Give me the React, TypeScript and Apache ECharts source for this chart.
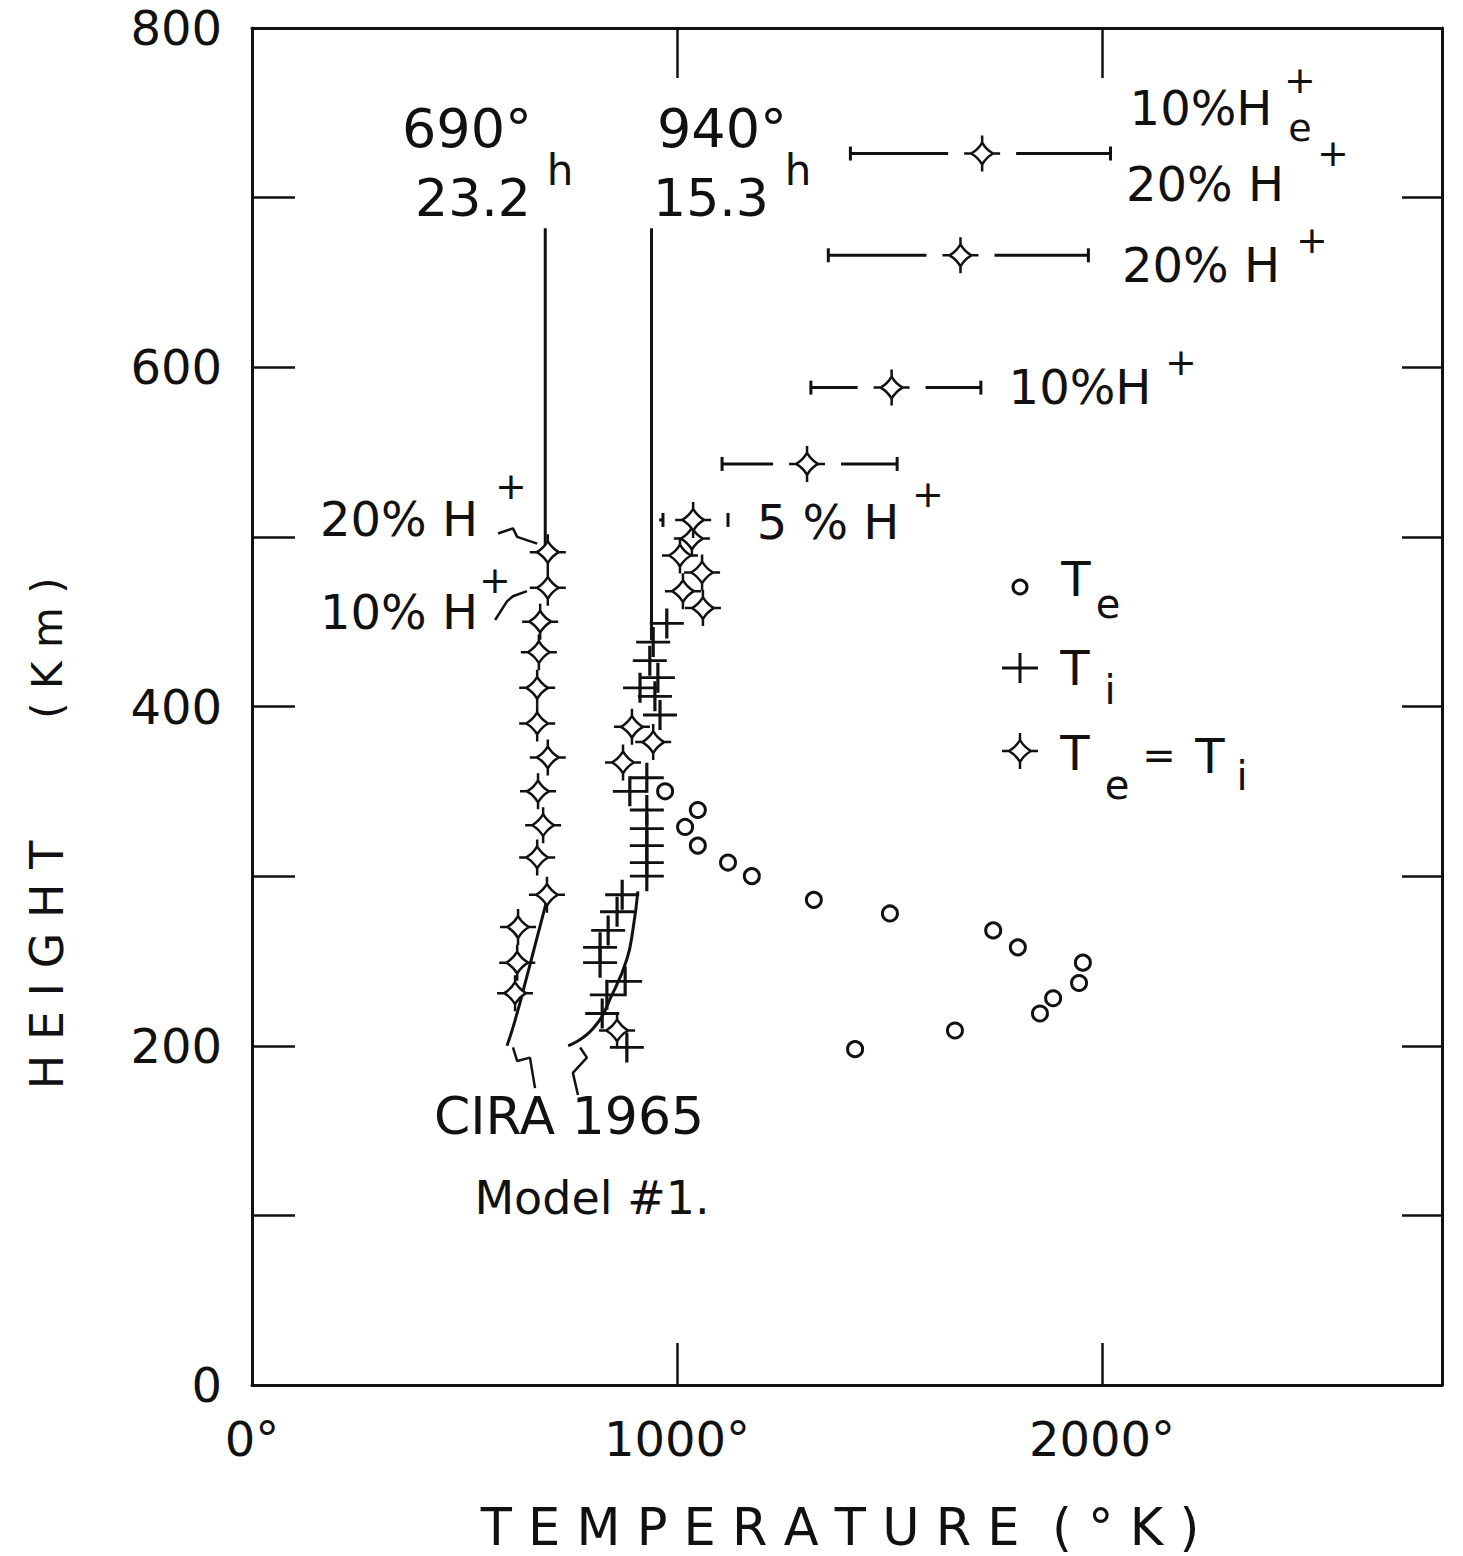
import React, { useEffect, useRef } from "react";
import * as echarts from "echarts";

// ---------- axis ticks ----------
const xTickValues = [0, 1000, 2000];
const yTickLabelValues = [0, 200, 400, 600, 800];

// ---------- data: [temperature °K, height km] ----------
const teCircles: number[][] = [
  [972, 350], [1049, 339], [1019, 329], [1049, 318], [1120, 308], [1176, 300],
  [1322, 286], [1501, 278], [1744, 268], [1802, 258], [1955, 249], [1946, 237],
  [1885, 228], [1854, 219], [1654, 209], [1419, 198],
];

const tiCrosses: number[][] = [
  [976, 449], [944, 438], [936, 427], [955, 417], [913, 411], [948, 406], [960, 395],
  [929, 358], [889, 350], [929, 339], [929, 328], [929, 318], [929, 308], [929, 300],
  [871, 289], [859, 279], [838, 268], [819, 258], [819, 249], [878, 238], [835, 230],
  [824, 219], [882, 199],
];

const teEqTiLeft: number[][] = [
  [696, 491], [696, 470], [678, 450], [675, 432], [671, 411], [671, 390], [696, 370],
  [673, 350], [685, 330], [671, 311], [694, 289], [626, 270], [624, 249], [619, 231],
];

const teEqTiRight: number[][] = [
  [1035, 499], [1007, 489], [1059, 479], [1014, 468], [1061, 458],
  [894, 388], [944, 379], [873, 367], [859, 209],
];

// [centre T, height, lower T, upper T]
const errorBars: number[][] = [
  [1718, 726, 1408, 2020],
  [1667, 666, 1356, 1968],
  [1505, 588, 1315, 1715],
  [1306, 543, 1106, 1518],
  [1038, 510, 967, 1120],
];

const model690: number[][] = [[690, 491], [690, 682]];
const model940: number[][] = [[940, 439], [940, 682]];
const ciraLeft: number[][] = [[600, 200], [619, 215], [647, 241], [671, 264], [694, 286]];
const ciraRight: number[][] = [[744, 200], [802, 210], [849, 231], [882, 251], [896, 268], [908, 291]];
const ciraArrowLeft: number[][] = [[666, 175], [654, 193], [624, 191], [614, 199]];
const ciraArrowRight: number[][] = [[767, 171], [755, 184], [788, 193], [772, 199]];
const arrow20: number[][] = [[579, 502], [614, 505], [624, 500], [671, 496]];
const arrow10: number[][] = [[572, 451], [600, 462], [614, 465], [647, 468]];

// ---------- marker shapes ----------
const STAR_D =
  "M0,18L7,18M29,18L36,18M18,0L18,7M18,29L18,36M18,7Q22,14 29,18Q22,22 18,29Q14,22 7,18Q14,14 18,7Z";
const PLUS_D = "M0,15L36,15M18,0L18,30";
const STAR = "path://" + STAR_D;
const PLUS = "path://" + PLUS_D;

let shapesRegistered = false;
function registerShapes() {
  if (shapesRegistered) return;
  echarts.graphic.registerShape("tetiStar", echarts.graphic.extendPath(STAR_D, {}) as any);
  echarts.graphic.registerShape("tiPlus", echarts.graphic.extendPath(PLUS_D, {}) as any);
  shapesRegistered = true;
}

const FONT = '"DejaVu Sans", "Liberation Sans", sans-serif';
const INK = "#111";

function txt(text: string, x: number, y: number, size: number, extra: any = {}) {
  return {
    type: "text",
    x,
    y,
    silent: true,
    ...extra,
    style: {
      text,
      fontSize: size,
      fontFamily: FONT,
      fill: INK,
      textAlign: "center",
      textVerticalAlign: "middle",
      align: "center",
      verticalAlign: "middle",
    },
  };
}

export default function App() {
  const ref = useRef<HTMLDivElement>(null);

  useEffect(() => {
    document.body.style.margin = "0";
    registerShapes();
    const chart = echarts.init(ref.current!, null, { renderer: "svg" });

    const lineStyle = { color: INK, width: 3 };
    const lineSeries = (data: number[][], smooth = false, width = 3) => ({
      type: "line",
      data,
      smooth,
      showSymbol: false,
      symbol: "none",
      silent: true,
      z: 2,
      lineStyle: { color: INK, width },
    });

    const graphic: any[] = [
      // labels of the two model profiles
      txt("690°", 467, 128, 54),
      txt("23.2", 473, 198, 52),
      txt("h", 560, 170, 42),
      txt("940°", 722, 128, 54),
      txt("15.3", 711, 198, 52),
      txt("h", 798, 170, 42),
      // error-bar labels
      txt("10%H", 1201, 108, 48),
      txt("+", 1300, 80, 38),
      txt("e", 1300, 128, 38),
      txt("20% H", 1205, 184, 48),
      txt("+", 1333, 153, 38),
      txt("20% H", 1201, 265, 48),
      txt("+", 1312, 240, 38),
      txt("10%H", 1080, 387, 48),
      txt("+", 1181, 362, 38),
      txt("5 % H", 828, 522, 48),
      txt("+", 928, 494, 38),
      // left labels
      txt("20% H", 399, 519, 48),
      txt("+", 511, 486, 38),
      txt("10% H", 399, 612, 48),
      txt("+", 495, 580, 38),
      // CIRA
      txt("CIRA 1965", 569, 1116, 52),
      txt("Model #1.", 592, 1198, 46),
      // legend
      {
        type: "circle",
        silent: true,
        shape: { cx: 1020, cy: 587, r: 7 },
        style: { fill: "#fff", stroke: INK, lineWidth: 3 },
      },
      txt("T", 1076, 579, 48),
      txt("e", 1108, 604, 40),
      { type: "tiPlus", x: 1002, y: 653, silent: true, style: { fill: "none", stroke: INK, lineWidth: 3 } },
      txt("T", 1075, 668, 48),
      txt("i", 1110, 690, 40),
      { type: "tetiStar", x: 1002, y: 733, silent: true, style: { fill: "#fff", stroke: INK, lineWidth: 2.5 } },
      txt("T", 1075, 753, 48),
      txt("e", 1117, 785, 40),
      txt("=", 1159, 755, 40),
      txt("T", 1210, 756, 48),
      txt("i", 1242, 776, 40),
      // axis titles
      txt("T E M P E R A T U R E  ( ° K )", 840, 1527, 51),
      txt("H E I G H T", 47, 965, 46, { rotation: Math.PI / 2 }),
      txt("( K m )", 47, 648, 42, { rotation: Math.PI / 2 }),
    ];

    const option: any = {
      animation: false,
      backgroundColor: "#fff",
      grid: { left: 252, right: 21, top: 28, bottom: 171, containLabel: false },
      xAxis: [
        {
          type: "value",
          min: 0,
          max: 2800,
          interval: 1000,
          position: "bottom",
          axisLine: { show: true, onZero: false, lineStyle },
          axisTick: { show: true, inside: true, length: 42, lineStyle: { color: INK, width: 2.5 } },
          splitLine: { show: false },
          axisLabel: {
            formatter: (v: number) => (xTickValues.includes(v) ? `${v}°` : ""),
            fontSize: 48,
            fontFamily: FONT,
            color: INK,
            margin: 30,
          },
        },
        {
          type: "value",
          min: 0,
          max: 2800,
          interval: 1000,
          position: "top",
          axisLine: { show: true, onZero: false, lineStyle },
          axisTick: { show: true, inside: true, length: 50, lineStyle: { color: INK, width: 2.5 } },
          splitLine: { show: false },
          axisLabel: { show: false },
        },
      ],
      yAxis: [
        {
          type: "value",
          min: 0,
          max: 800,
          interval: 100,
          position: "left",
          axisLine: { show: true, onZero: false, lineStyle },
          axisTick: { show: true, inside: true, length: 43, lineStyle: { color: INK, width: 2.5 } },
          splitLine: { show: false },
          axisLabel: {
            formatter: (v: number) => (yTickLabelValues.includes(v) ? `${v}` : ""),
            fontSize: 48,
            fontFamily: FONT,
            color: INK,
            margin: 30,
          },
        },
        {
          type: "value",
          min: 0,
          max: 800,
          interval: 100,
          position: "right",
          axisLine: { show: true, onZero: false, lineStyle },
          axisTick: { show: true, inside: true, length: 40, lineStyle: { color: INK, width: 2.5 } },
          splitLine: { show: false },
          axisLabel: { show: false },
        },
      ],
      series: [
        { name: "690° model", ...lineSeries(model690) },
        { name: "940° model", ...lineSeries(model940) },
        { name: "CIRA 690", ...lineSeries(ciraLeft, true) },
        { name: "CIRA 940", ...lineSeries(ciraRight, true) },
        { name: "arrow a", ...lineSeries(ciraArrowLeft, false, 2.5) },
        { name: "arrow b", ...lineSeries(ciraArrowRight, false, 2.5) },
        { name: "arrow c", ...lineSeries(arrow20, false, 2.5) },
        { name: "arrow d", ...lineSeries(arrow10, false, 2.5) },
        {
          name: "error bars",
          type: "custom",
          silent: true,
          z: 2,
          encode: { x: 0, y: 1 },
          data: errorBars,
          renderItem: (params: any, api: any) => {
            const h = api.value(1);
            const c = api.coord([api.value(0), h]);
            const l = api.coord([api.value(2), h]);
            const r = api.coord([api.value(3), h]);
            const gap = 34;
            const cap = 7;
            const st = { stroke: INK, lineWidth: 3 };
            return {
              type: "group",
              children: [
                { type: "line", shape: { x1: l[0], y1: l[1], x2: c[0] - gap, y2: c[1] }, style: st },
                { type: "line", shape: { x1: c[0] + gap, y1: c[1], x2: r[0], y2: r[1] }, style: st },
                { type: "line", shape: { x1: l[0], y1: l[1] - cap, x2: l[0], y2: l[1] + cap }, style: st },
                { type: "line", shape: { x1: r[0], y1: r[1] - cap, x2: r[0], y2: r[1] + cap }, style: st },
              ],
            };
          },
        },
        {
          name: "Te",
          type: "scatter",
          z: 3,
          data: teCircles,
          symbol: "circle",
          symbolSize: 15,
          itemStyle: { color: "#fff", borderColor: INK, borderWidth: 3, opacity: 1 },
        },
        {
          name: "Ti",
          type: "scatter",
          z: 3,
          data: tiCrosses,
          symbol: PLUS,
          symbolSize: [34, 30],
          itemStyle: { color: "none", borderColor: INK, borderWidth: 3, opacity: 1 },
        },
        {
          name: "Te = Ti",
          type: "scatter",
          z: 4,
          data: [...teEqTiLeft, ...teEqTiRight, ...errorBars.map((d) => [d[0], d[1]])],
          symbol: STAR,
          symbolSize: 36,
          itemStyle: { color: "#fff", borderColor: INK, borderWidth: 2.5, opacity: 1 },
        },
      ],
      graphic,
    };

    chart.setOption(option);
    return () => chart.dispose();
  }, []);

  return <div ref={ref} style={{ width: 1463, height: 1556 }} />;
}
